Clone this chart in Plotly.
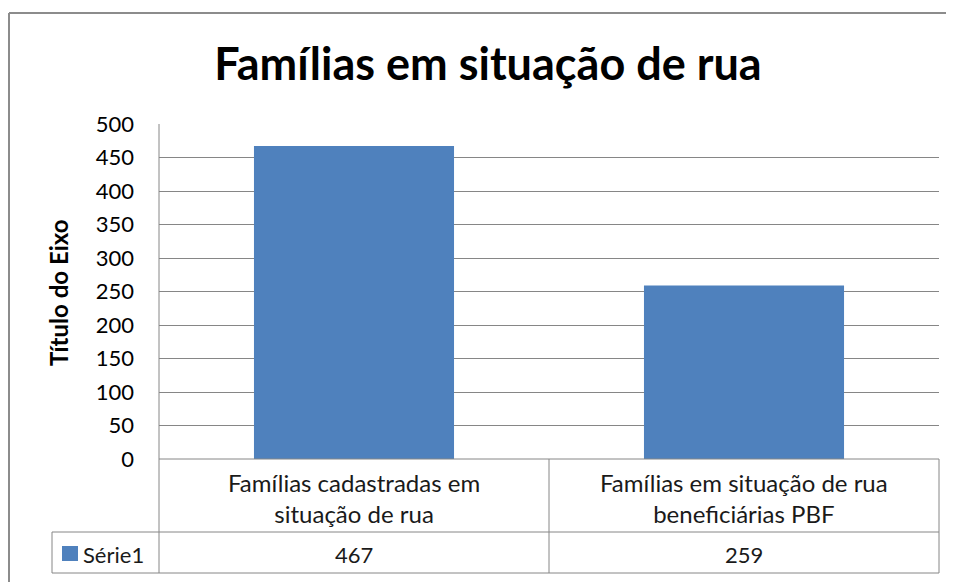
import plotly.graph_objects as go

title_text = "Famílias em situação de rua"
categories = ["Famílias cadastradas em situação de rua",
              "Famílias em situação de rua beneficiárias PBF"]
category_lines = ["Famílias cadastradas em<br>situação de rua",
                  "Famílias em situação de rua<br>beneficiárias PBF"]
series_name = "Série1"
values = [467, 259]
y_ticks = [0, 50, 100, 150, 200, 250, 300, 350, 400, 450, 500]
axis_title = "Título do Eixo"

OFF = 8  # page body margin offset
W, H = 954 - OFF, 582 - OFF
PL, PR, PT, PB = 159 - OFF, 939 - OFF, 124 - OFF, 459 - OFF  # plot area in figure px
FONT = "Lato"
BAR = "#4F81BD"
GRID = "#868686"
BORDER = "#8C8C8C"


def px_x(p):
    # p given in reference-screen px
    return (p - OFF - PL) / (PR - PL)


def px_y(p):
    return (PB - (p - OFF)) / (PB - PT)


fig = go.Figure()
fig.add_trace(go.Bar(x=categories, y=values, marker=dict(color=BAR, line=dict(width=0)),
                     name=series_name, showlegend=False))

shapes = []


def line(x0, y0, x1, y1, color=GRID, w=1):
    shapes.append(dict(type="line", xref="paper", yref="paper",
                       x0=px_x(x0), y0=px_y(y0), x1=px_x(x1), y1=px_y(y1),
                       line=dict(color=color, width=w), layer="above"))


# outer chart-area frame: only left and top edges visible
line(9, 13, 9, 700, color=BORDER, w=2)
line(9, 13, 1100, 13, color=BORDER, w=2)

# data table lines (reference px)
rPL, rPR, rPB = 159, 939, 459
row1, row2, row3 = rPB, 532, 573
mid = (rPL + rPR) / 2
line(rPL, 124, rPL, row3)          # axis line down through table
line(rPL, row1, rPR, row1)
line(52, row2, rPR, row2)
line(52, row3, rPR, row3)
line(52, row2, 52, row3)
line(mid, row1, mid, row3)
line(rPR, row1, rPR, row3)
# legend key
shapes.append(dict(type="rect", xref="paper", yref="paper",
                   x0=px_x(62), x1=px_x(78), y0=px_y(546), y1=px_y(561),
                   fillcolor=BAR, line=dict(width=0)))

annotations = []
col_centers = [rPL + (rPR - rPL) / 4, rPL + 3 * (rPR - rPL) / 4]
TXT = "#1a1a1a"
for cx, lab, v in zip(col_centers, category_lines, values):
    annotations.append(dict(xref="paper", yref="paper", x=px_x(cx), y=px_y(498),
                            text=lab, showarrow=False, xanchor="center", yanchor="middle",
                            font=dict(family=FONT, size=24, color=TXT),
                            align="center"))
    annotations.append(dict(xref="paper", yref="paper", x=px_x(cx), y=px_y(554),
                            text=str(v), showarrow=False, xanchor="center", yanchor="middle",
                            font=dict(family=FONT, size=22, color=TXT)))
annotations.append(dict(xref="paper", yref="paper", x=px_x(81), y=px_y(554),
                        text=series_name, showarrow=False, xanchor="left", yanchor="middle",
                        font=dict(family=FONT, size=22, color=TXT)))
annotations.append(dict(xref="paper", yref="paper", x=px_x(58), y=px_y(292),
                        text="<b>" + axis_title + "</b>", showarrow=False, textangle=-90,
                        xanchor="center", yanchor="middle",
                        font=dict(family=FONT, size=24, color="#000")))

fig.update_layout(
    width=W, height=H,
    margin=dict(l=PL, r=W - PR, t=PT, b=H - PB, pad=0),
    paper_bgcolor="white", plot_bgcolor="white",
    title=dict(text="<b>" + title_text + "</b>", x=(488 - OFF) / W, xref="container",
               xanchor="center", y=1 - (64 - OFF) / H, yref="container", yanchor="middle",
               font=dict(family=FONT, size=45, color="#000")),
    bargap=0.487,
    xaxis=dict(showticklabels=False, showgrid=False, zeroline=False, showline=False),
    yaxis=dict(range=[0, 500], tickvals=y_ticks, showgrid=True, gridcolor=GRID, gridwidth=1,
               zeroline=False, showline=False, ticks="", ticklabelstandoff=24,
               tickfont=dict(family=FONT, size=22, color="#000")),
    shapes=shapes, annotations=annotations,
    font=dict(family=FONT),
)

fig.write_html("out.html", config={"displayModeBar": False},
               post_script="document.documentElement.style.overflow='hidden';"
                           "document.body.style.overflow='hidden';")
